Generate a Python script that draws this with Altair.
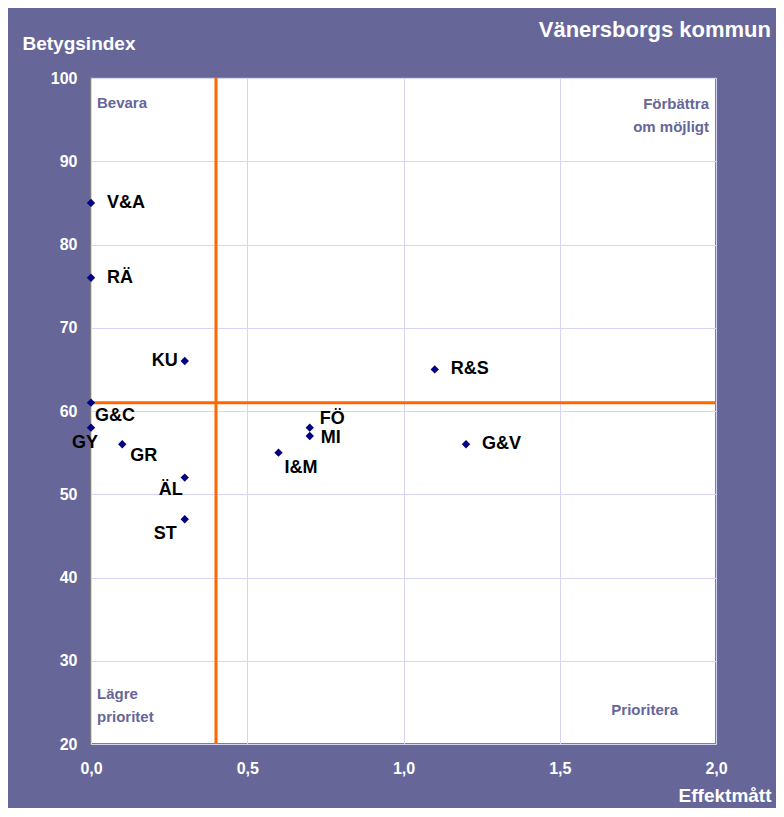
import altair as alt
import pandas as pd

# Data
labels = ["V&A", "RÄ", "KU", "G&C", "GY", "GR", "ÄL", "ST", "FÖ", "MI", "I&M", "R&S", "G&V"]
effekt = [0.0, 0.0, 0.3, 0.0, 0.0, 0.1, 0.3, 0.3, 0.7, 0.7, 0.6, 1.1, 1.2]
betyg = [85, 76, 66, 61, 58, 56, 52, 47, 58, 57, 55, 65, 56]
x_threshold = [0.4]
y_threshold = [61]
x_ticks = [0.0, 0.5, 1.0, 1.5, 2.0]
y_ticks = [20, 30, 40, 50, 60, 70, 80, 90, 100]

df = pd.DataFrame({"label": labels, "x": effekt, "y": betyg})

# Label placement (style only): dx, dy, align
label_style = {
    "V&A": (16, 0, "left"),
    "RÄ": (16, 0, "left"),
    "KU": (-7, 0, "right"),
    "G&C": (4, 13, "left"),
    "GY": (-6, 15, "center"),
    "GR": (8, 12, "left"),
    "ÄL": (-2, 12, "right"),
    "ST": (-8, 15, "right"),
    "FÖ": (10, -9, "left"),
    "MI": (11, 2, "left"),
    "I&M": (6, 15, "left"),
    "R&S": (16, 0, "left"),
    "G&V": (16, 0, "left"),
}

FONT = "Liberation Sans"
PURPLE = "#666699"
W, H = 625, 666

xs = alt.Scale(domain=[0, 2], nice=False, zero=False)
ys = alt.Scale(domain=[20, 100], nice=False, zero=False)

X = alt.X("x:Q", scale=xs, axis=alt.Axis(
    values=x_ticks, grid=True, gridColor="#d4d4f4", gridWidth=1,
    ticks=False, domain=False,
    labelExpr="replace(format(datum.value, '.1f'), '.', ',')",
    labelColor="white", labelFont=FONT, labelFontSize=16, labelFontWeight="bold",
    labelPadding=16, labelFlush=False,
    title="Effektmått", titleColor="white", titleFont=FONT, titleFontSize=19,
    titleFontWeight="bold", titleAlign="right", titleBaseline="middle",
    titleX=680, titleY=51, titleAngle=0))
Y = alt.Y("y:Q", scale=ys, axis=alt.Axis(
    values=y_ticks, grid=True, gridColor="#d4d4f4", gridWidth=1,
    ticks=False, domain=False,
    labelColor="white", labelFont=FONT, labelFontSize=16, labelFontWeight="bold",
    labelPadding=14, labelFlush=False,
    title="Betygsindex", titleColor="white", titleFont=FONT, titleFontSize=19,
    titleFontWeight="bold", titleAlign="left", titleBaseline="middle",
    titleX=-69, titleY=-35, titleAngle=0))

base = alt.Chart(df)

vrule = alt.Chart(pd.DataFrame({"x": x_threshold})).mark_rule(
    color="#ff6600", strokeWidth=3).encode(x=alt.X("x:Q", scale=xs))
hrule = alt.Chart(pd.DataFrame({"y": y_threshold})).mark_rule(
    color="#ff6600", strokeWidth=3).encode(y=alt.Y("y:Q", scale=ys))

points = base.mark_point(shape="diamond", filled=True, color="#000080",
                         size=70, opacity=1).encode(x=X, y=Y)

text_layers = []
for lab in labels:
    dx, dy, al = label_style[lab]
    text_layers.append(
        base.transform_filter(alt.datum.label == lab).mark_text(
            font=FONT, fontSize=18, fontWeight="bold", color="black",
            align=al, baseline="middle", dx=dx, dy=dy
        ).encode(x=alt.X("x:Q", scale=xs), y=alt.Y("y:Q", scale=ys), text="label:N")
    )

qstyle = dict(font=FONT, fontSize=15, fontWeight="bold", color=PURPLE,
              baseline="alphabetic", lineHeight=23)
q1 = alt.Chart().mark_text(align="left", text="Bevara", **qstyle).encode(
    x=alt.value(6), y=alt.value(30))
q2 = alt.Chart().mark_text(align="right", text=["Förbättra", "om möjligt"], **qstyle).encode(
    x=alt.value(618), y=alt.value(31))
q3 = alt.Chart().mark_text(align="left", text=["Lägre", "prioritet"], **qstyle).encode(
    x=alt.value(6), y=alt.value(621))
q4 = alt.Chart().mark_text(align="right", text="Prioritera", **qstyle).encode(
    x=alt.value(587), y=alt.value(637))

title = alt.Chart().mark_text(
    align="right", baseline="middle", text="Vänersborgs kommun",
    font=FONT, fontSize=22, fontWeight="bold", color="white"
).encode(x=alt.value(680), y=alt.value(-48))

chart = alt.layer(
    vrule, hrule, points, *text_layers, q1, q2, q3, q4, title
).properties(
    width=W, height=H,
    autosize=alt.AutoSizeParams(type="none"),
    padding={"left": 83, "top": 70, "right": 60, "bottom": 64},
    background=PURPLE,
).configure_view(
    fill="white", stroke="#808080", strokeWidth=2
)

chart.save("out.html", embed_options={"renderer": "svg", "actions": False})
